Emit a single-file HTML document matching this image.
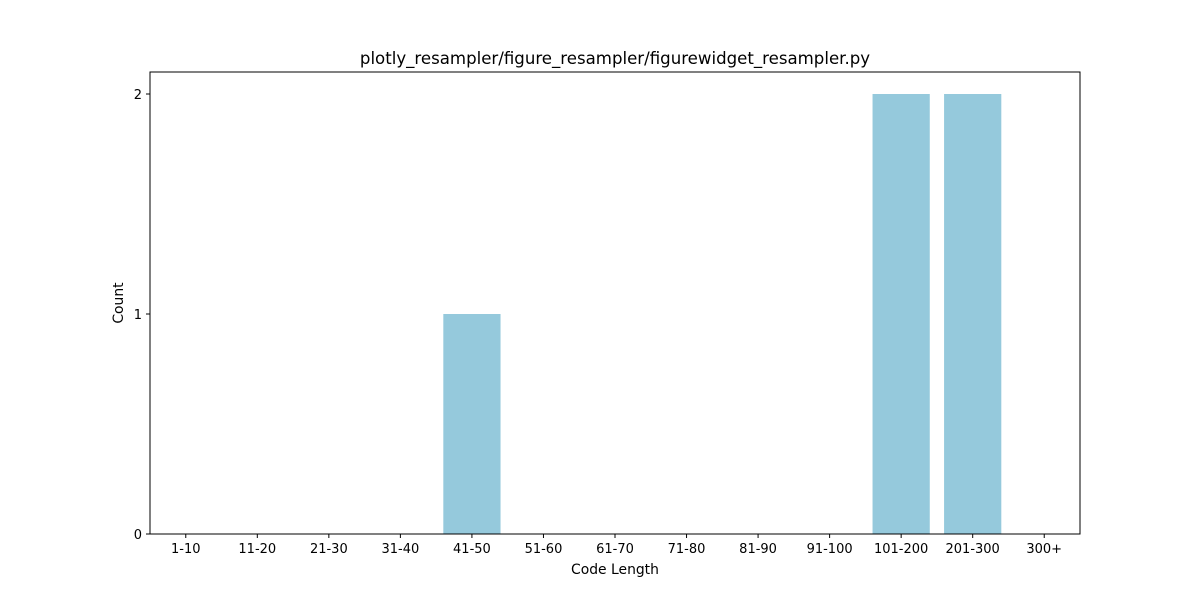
<!DOCTYPE html>
<html><head><meta charset="utf-8"><style>
body{margin:0;background:#fff;}
svg text{font-family:"DejaVu Sans","Liberation Sans",sans-serif;fill:#000;}
</style></head><body>
<svg id="chart" width="1200" height="600">
<rect x="0" y="0" width="1200" height="600" fill="#fff"/>
<text x="615" y="64" font-size="16.6" text-anchor="middle">plotly_resampler/figure_resampler/figurewidget_resampler.py</text>
<g id="bars"></g>
<g id="xticks"></g>
<g id="yticks"></g>
<rect x="150" y="72" width="930" height="462" fill="none" stroke="#000" stroke-width="1"/>
<text x="615" y="574" font-size="13.9" text-anchor="middle">Code Length</text>
<text x="123" y="303" font-size="13.9" text-anchor="middle" transform="rotate(-90 123 303)">Count</text>
</svg>
<script>
const categories=["1-10","11-20","21-30","31-40","41-50","51-60","61-70","71-80","81-90","91-100","101-200","201-300","300+"];
const counts=[0,0,0,0,1,0,0,0,0,0,2,2,0];
const yTicks=[0,1,2];
const L=150,R=1080,T=72,B=534,xmin=-0.5,xmax=12.5,ymin=0,ymax=2.1;
const xs=i=>L+(i-xmin)/(xmax-xmin)*(R-L);
const ys=v=>B-(v-ymin)/(ymax-ymin)*(B-T);
const NS="http://www.w3.org/2000/svg";
const bars=document.getElementById('bars'),xt=document.getElementById('xticks'),yt=document.getElementById('yticks');
const bw=0.8*(R-L)/(xmax-xmin);
categories.forEach((c,i)=>{
 const r=document.createElementNS(NS,'rect');
 r.setAttribute('x',xs(i)-bw/2);r.setAttribute('width',bw);
 r.setAttribute('y',ys(counts[i]));r.setAttribute('height',ys(0)-ys(counts[i]));
 r.setAttribute('fill','#95c9dc');
 
 
 bars.appendChild(r);
 const l=document.createElementNS(NS,'line');
 l.setAttribute('x1',xs(i));l.setAttribute('x2',xs(i));l.setAttribute('y1',B);l.setAttribute('y2',B+4);l.setAttribute('stroke','#000');
 
 
 xt.appendChild(l);
 const t=document.createElementNS(NS,'text');
 t.setAttribute('x',xs(i));t.setAttribute('y',B+19);t.setAttribute('font-size','13');t.setAttribute('text-anchor','middle');
 t.textContent=c;
 
 
 xt.appendChild(t);
});
yTicks.forEach(v=>{
 const l=document.createElementNS(NS,'line');
 l.setAttribute('x1',L-4);l.setAttribute('x2',L);l.setAttribute('y1',ys(v));l.setAttribute('y2',ys(v));l.setAttribute('stroke','#000');
 
 
 yt.appendChild(l);
 const t=document.createElementNS(NS,'text');
 t.setAttribute('x',L-8);t.setAttribute('y',ys(v)+5);t.setAttribute('font-size','13');t.setAttribute('text-anchor','end');
 t.textContent=v;
 
 
 yt.appendChild(t);
});
</script>
</body></html>
